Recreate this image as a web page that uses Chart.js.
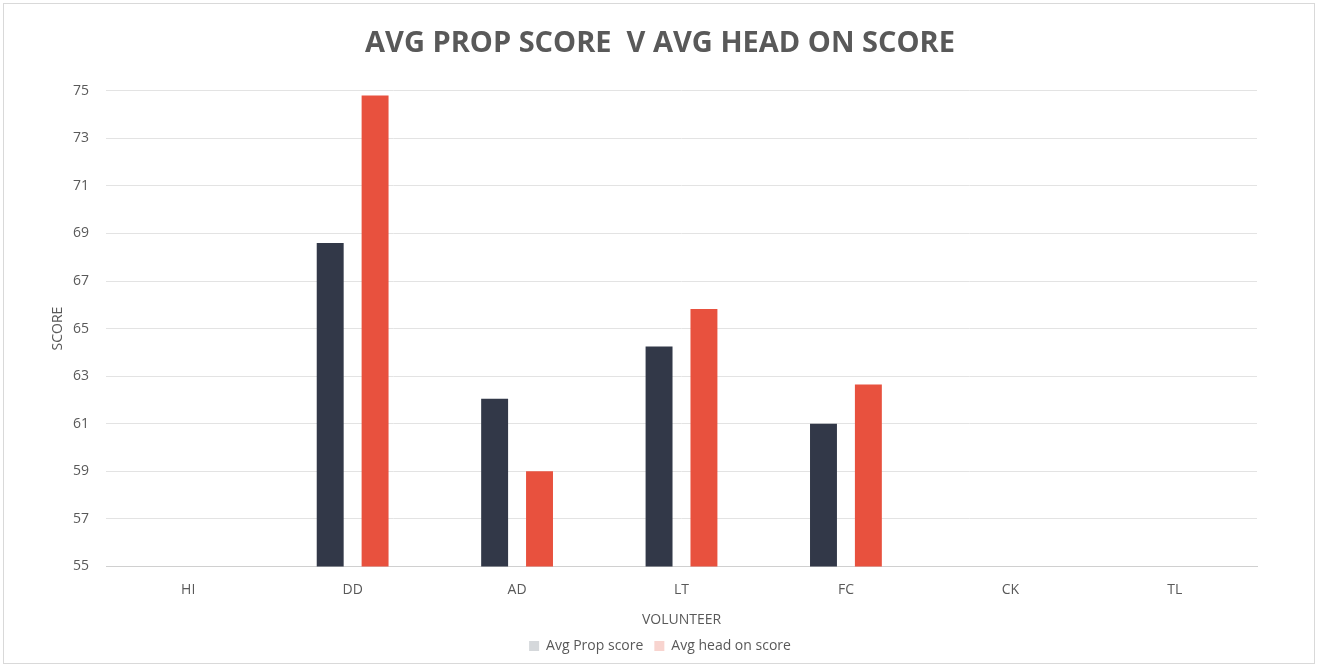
<!DOCTYPE html>
<html>
<head>
<meta charset="utf-8">
<script src="https://cdn.jsdelivr.net/npm/chart.js@4"></script>
<style>
  html, body { margin: 0; padding: 0; background: #ffffff; }
  #wrap { position: absolute; left: 3px; top: 3px; width: 1312px; height: 661px; border: 1px solid #d9d9d9; box-sizing: border-box; }
</style>
</head>
<body>
<div id="wrap"><canvas id="scoreChart"></canvas></div>
<script>
const volunteers = ["HI", "DD", "AD", "LT", "FC", "CK", "TL"];
const avgPropScore = [null, 68.6, 62.05, 64.25, 61.0, null, null];
const avgHeadOnScore = [null, 74.8, 59.0, 65.82, 62.65, null, null];
const yMin = 55;
const yMax = 75;
const yStep = 2;

const textColor = "#595959";
const fontFamily = "'Open Sans', 'Noto Sans', sans-serif";

new Chart(document.getElementById("scoreChart"), {
  type: "bar",
  data: {
    labels: volunteers,
    datasets: [
      {
        label: "Avg Prop score",
        data: avgPropScore,
        backgroundColor: "#323848",
        legendColor: "#d5d8db",
        categoryPercentage: 0.546,
        barPercentage: 0.6
      },
      {
        label: "Avg head on score",
        data: avgHeadOnScore,
        backgroundColor: "#e8513e",
        legendColor: "#f8d4cf",
        categoryPercentage: 0.546,
        barPercentage: 0.6
      }
    ]
  },
  options: {
    responsive: true,
    maintainAspectRatio: false,
    animation: false,
    layout: { padding: { left: 2, right: 0, top: 0, bottom: 0 } },
    plugins: {
      title: {
        display: true,
        text: "AVG PROP SCORE  V AVG HEAD ON SCORE",
        color: textColor,
        font: { family: fontFamily, size: 29, weight: "bold" },
        padding: { top: 22, bottom: 30 }
      },
      legend: {
        position: "bottom",
        labels: {
          color: textColor,
          font: { family: fontFamily, size: 14 },
          boxWidth: 10,
          boxHeight: 10,
          padding: 11,
          generateLabels: chart => chart.data.datasets.map((ds, i) => ({
            text: ds.label,
            fillStyle: ds.legendColor,
            strokeStyle: ds.legendColor,
            lineWidth: 0,
            fontColor: textColor,
            datasetIndex: i
          }))
        }
      },
      tooltip: { enabled: false }
    },
    scales: {
      x: {
        grid: { display: false, drawTicks: false },
        border: { color: "#d0d0d0" },
        ticks: { color: textColor, font: { family: fontFamily, size: 14 }, padding: 15 },
        title: { display: true, text: "VOLUNTEER", color: textColor, font: { family: fontFamily, size: 14 }, padding: { top: -2, bottom: 0 } }
      },
      y: {
        min: yMin,
        max: yMax,
        grid: { color: "#e3e3e3", drawTicks: false },
        border: { display: false },
        ticks: { stepSize: yStep, color: textColor, font: { family: fontFamily, size: 14 }, padding: 17 },
        title: { display: true, text: "SCORE", color: textColor, font: { family: fontFamily, size: 14 }, padding: { top: 44, bottom: 0 } },
        afterFit: scale => { scale.width = 100; }
      },
      yRight: {
        position: "right",
        display: true,
        grid: { display: false, drawTicks: false },
        border: { display: false },
        ticks: { display: false },
        afterFit: scale => { scale.width = 57; }
      }
    }
  }
});
</script>
</body>
</html>
